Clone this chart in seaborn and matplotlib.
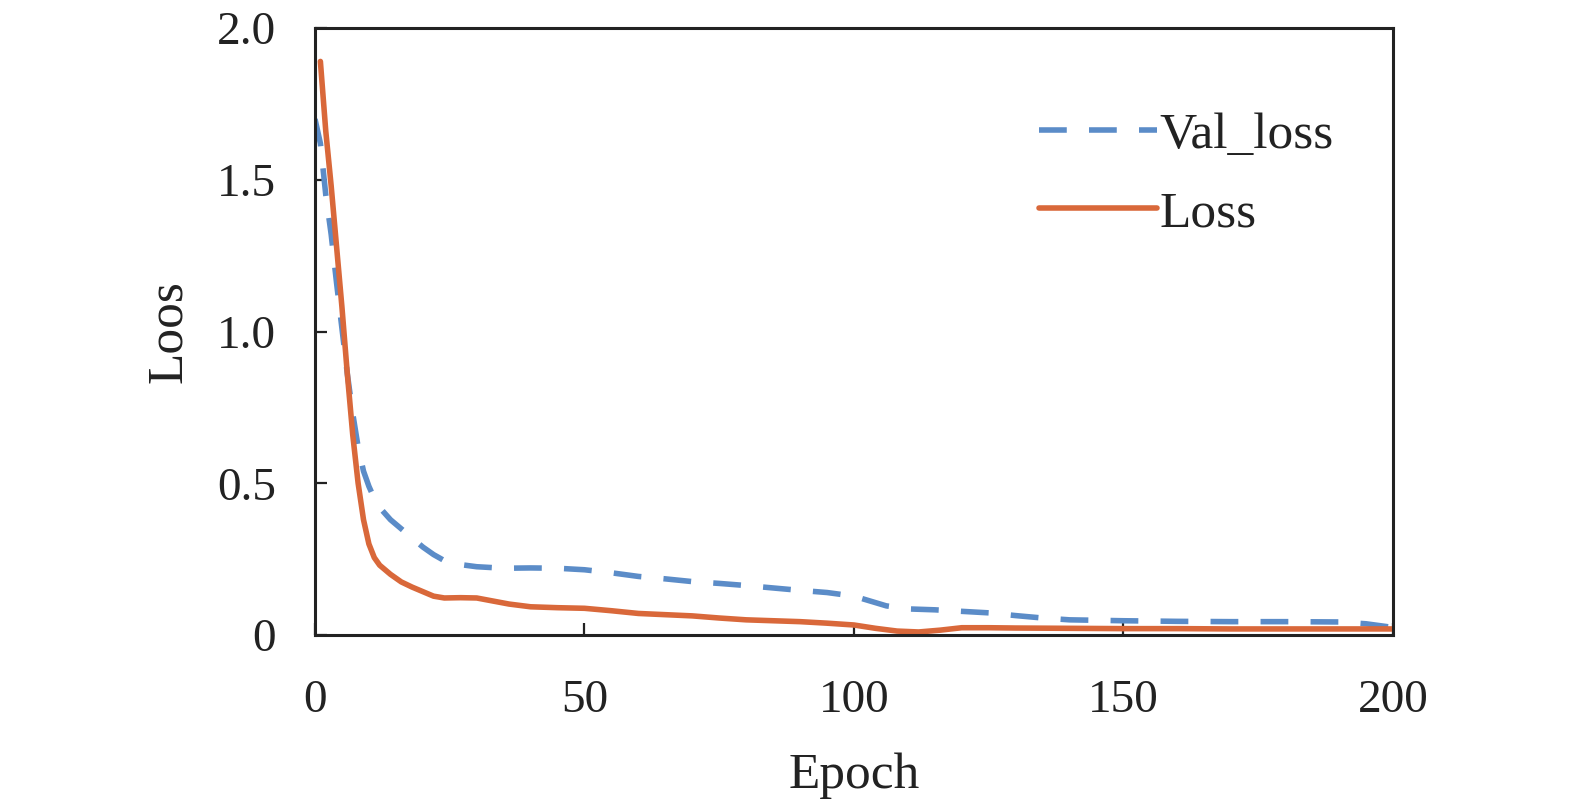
import numpy as np
import matplotlib
matplotlib.use('Agg')
import matplotlib.pyplot as plt
import seaborn as sns

# Training curves
val_epoch = [0, 1, 2, 3, 4, 5, 6, 7, 8, 9, 10, 11, 12, 14, 16, 18, 20, 22, 24, 27, 30,
             35, 40, 45, 50, 55, 60, 65, 70, 75, 80, 85, 90, 95, 100, 103, 106, 110,
             115, 120, 125, 130, 135, 140, 150, 160, 170, 180, 190, 195, 200]
val_loss = [1.70, 1.62, 1.45, 1.32, 1.16, 1.01, 0.86, 0.73, 0.62, 0.54, 0.49, 0.45, 0.42,
            0.38, 0.35, 0.32, 0.29, 0.265, 0.245, 0.232, 0.225, 0.22, 0.221, 0.22, 0.215,
            0.205, 0.193, 0.185, 0.176, 0.170, 0.163, 0.155, 0.147, 0.140, 0.128, 0.112,
            0.096, 0.086, 0.083, 0.078, 0.073, 0.064, 0.056, 0.050, 0.047, 0.045, 0.044,
            0.044, 0.043, 0.037, 0.025]

loss_epoch = [1, 2, 3, 4, 5, 6, 7, 8, 9, 10, 11, 12, 14, 16, 18, 20, 22, 24, 27, 30, 33,
              36, 40, 45, 50, 55, 60, 65, 70, 75, 80, 85, 90, 95, 100, 104, 108, 112, 116,
              120, 125, 130, 140, 150, 160, 170, 180, 190, 200]
loss = [1.89, 1.66, 1.48, 1.28, 1.08, 0.86, 0.66, 0.50, 0.38, 0.30, 0.255, 0.23, 0.20,
        0.175, 0.158, 0.143, 0.128, 0.122, 0.123, 0.122, 0.112, 0.102, 0.093, 0.090, 0.088,
        0.080, 0.071, 0.067, 0.063, 0.056, 0.050, 0.047, 0.044, 0.039, 0.033, 0.022, 0.013,
        0.010, 0.016, 0.024, 0.024, 0.023, 0.022, 0.021, 0.021, 0.020, 0.020, 0.020, 0.020]

x_ticks = [0, 50, 100, 150, 200]
x_tick_labels = ['0', '50', '100', '150', '200']
y_ticks = [0, 0.5, 1.0, 1.5, 2.0]
y_tick_labels = ['0', '0.5', '1.0', '1.5', '2.0']

sns.set_theme(style='ticks')
plt.rcParams['font.family'] = ['Liberation Serif', 'DejaVu Serif']

fig = plt.figure(figsize=(15.75, 8.08), dpi=100)
ax = fig.add_axes([0.2, 0.2141, 0.6844, 0.7512])

sns.lineplot(x=val_epoch, y=val_loss, ax=ax, color='#5b8cc8', linewidth=4,
             dashes=False, label='Val_loss')
sns.lineplot(x=loss_epoch, y=loss, ax=ax, color='#d9683a', linewidth=4,
             label='Loss')
ax.lines[0].set_dashes((5.0, 4.0))

ax.set_xlim(0, 200)
ax.set_ylim(0, 2.0)
ax.set_xticks(x_ticks)
ax.set_xticklabels(x_tick_labels)
ax.set_yticks(y_ticks)
ax.set_yticklabels(y_tick_labels)

ax.tick_params(axis='both', direction='in', length=8.5, width=1.6,
               labelsize=34, color='#222222', labelcolor='#222222')
ax.tick_params(axis='y', pad=28)
ax.tick_params(axis='x', pad=32)
ax.tick_params(top=False, right=False)

for side in ['left', 'right', 'top', 'bottom']:
    ax.spines[side].set_visible(True)
    ax.spines[side].set_linewidth(2.2)
    ax.spines[side].set_color('#222222')

ax.set_xlabel('Epoch', fontsize=37, labelpad=22, color='#222222')
ax.set_ylabel('Loos', fontsize=37, labelpad=18, color='#222222')

leg = ax.legend(loc='upper right', bbox_to_anchor=(0.964, 0.895), frameon=False,
                fontsize=37, handlelength=2.3, handletextpad=0.05, labelspacing=0.6,
                borderaxespad=0)
for t in leg.get_texts():
    t.set_color('#222222')

fig.savefig('out.png', dpi=100)
